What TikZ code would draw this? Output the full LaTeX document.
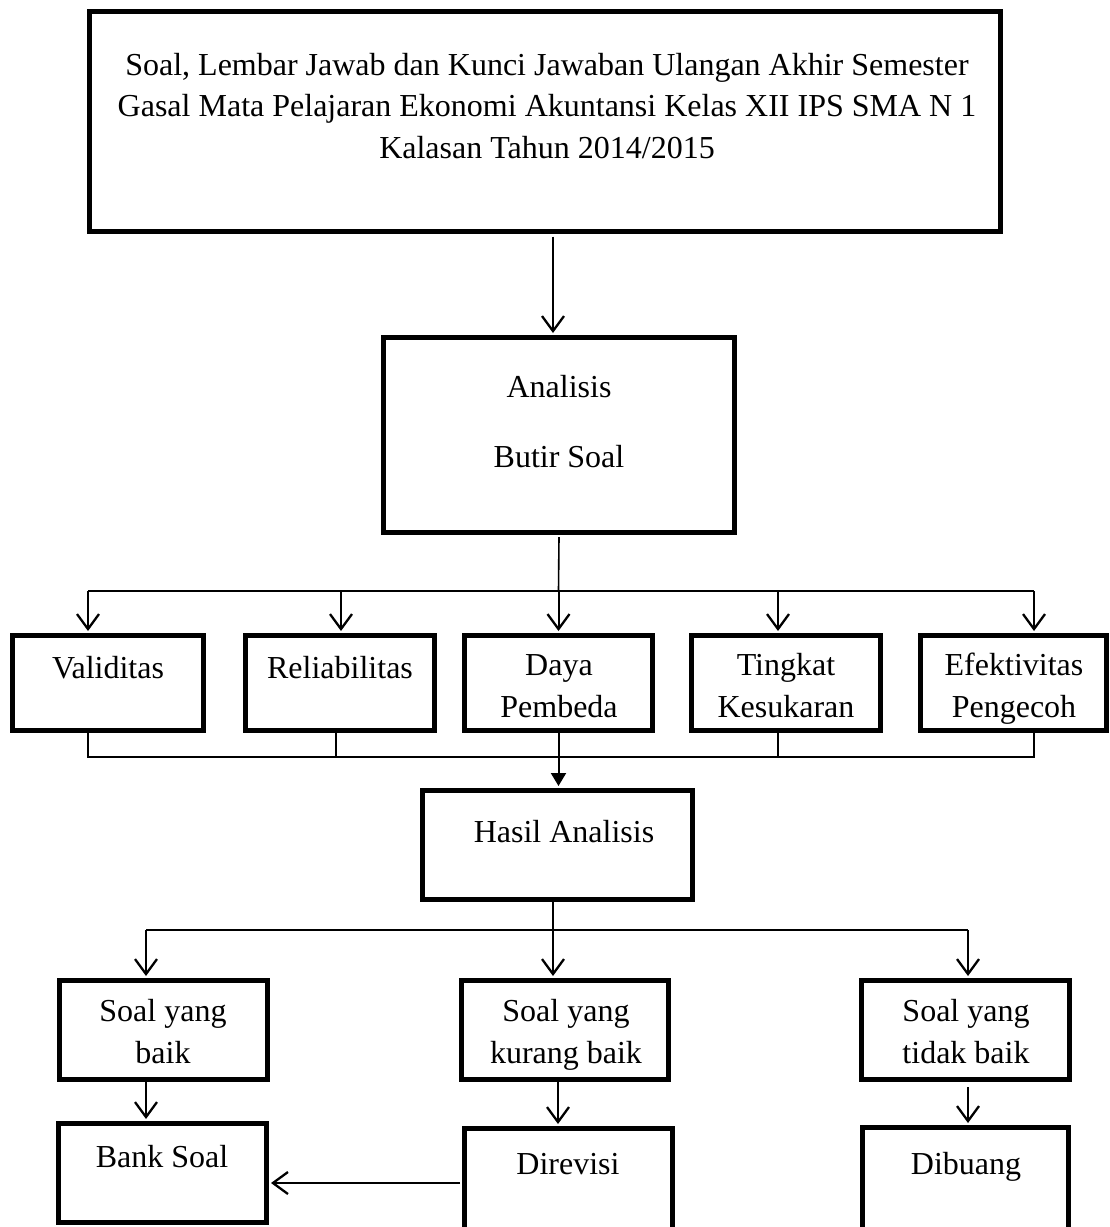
\documentclass[tikz,border=0pt]{standalone}
\usepackage{fontspec}
\setmainfont{Liberation Serif}
\usetikzlibrary{arrows.meta}
\begin{document}
\begin{tikzpicture}[x=1pt,y=-1pt,
  box/.style={draw=black, line width=5pt, inner sep=0pt, fill=white},
  txt/.style={inner sep=0pt, font=\fontsize{32}{41.5}\selectfont, align=center, anchor=base},
  ln/.style={line width=1.6pt},
  thin/.style={line width=1.3pt},
  arr/.style={line width=2pt, -{Straight Barb[length=15pt,width=22pt,line width=2.3pt]}, shorten >=2pt},
  arrf/.style={line width=2pt, -{Triangle[length=13pt,width=15pt]}, shorten >=2pt}]
\useasboundingbox[fill=white] (0,0) rectangle (1110,1227);

% boxes
\node[box, minimum width=911pt, minimum height=220pt] (title) at (545,121.5) {};
\node[box, minimum width=351pt, minimum height=195pt] (ana) at (559,435) {};
\node[box, minimum width=191pt, minimum height=95pt] (val) at (108,683) {};
\node[box, minimum width=189pt, minimum height=95pt] (rel) at (340,683) {};
\node[box, minimum width=188pt, minimum height=95pt] (day) at (558.5,683) {};
\node[box, minimum width=189pt, minimum height=95pt] (tin) at (786,683) {};
\node[box, minimum width=186pt, minimum height=95pt] (efe) at (1013.5,683) {};
\node[box, minimum width=270pt, minimum height=109pt] (has) at (557.5,845) {};
\node[box, minimum width=208pt, minimum height=99pt] (baik) at (163.5,1030) {};
\node[box, minimum width=207pt, minimum height=99pt] (kur) at (565,1030) {};
\node[box, minimum width=208pt, minimum height=99pt] (tid) at (965.5,1030) {};
\node[box, minimum width=208pt, minimum height=99pt] (bank) at (162.5,1173) {};
\node[box, minimum width=208pt, minimum height=104pt] (dir) at (568.5,1180.5) {};
\node[box, minimum width=206pt, minimum height=105pt] (dib) at (965.5,1180) {};

% texts (anchor=base is the baseline of the last line)
\node[txt] (titlet) at (547,158) {Soal, Lembar Jawab dan Kunci Jawaban Ulangan Akhir Semester\\Gasal Mata Pelajaran Ekonomi Akuntansi Kelas XII IPS SMA N 1\\Kalasan Tahun 2014/2015};
\node[txt, font=\fontsize{32}{70}\selectfont] (anat) at (559,467) {Analisis\\Butir Soal};
\node[txt] (valt) at (108,678) {Validitas};
\node[txt] (relt) at (340,678) {Reliabilitas};
\node[txt] (dayt) at (559,717) {Daya\\Pembeda};
\node[txt] (tint) at (786,717) {Tingkat\\Kesukaran};
\node[txt] (efet) at (1014,717) {Efektivitas\\Pengecoh};
\node[txt] (hast) at (564,842) {Hasil Analisis};
\node[txt] (baikt) at (163,1063) {Soal yang\\baik};
\node[txt] (kurt) at (566,1063) {Soal yang\\kurang baik};
\node[txt] (tidt) at (966,1063) {Soal yang\\tidak baik};
\node[txt] (bankt) at (162,1167) {Bank Soal};
\node[txt] (dirt) at (568,1174) {Direvisi};
\node[txt] (dibt) at (966,1174) {Dibuang};

% junction coordinates
\coordinate (a1) at (553,234);
\coordinate (b1) at (88,591);
\coordinate (b2) at (341,591);
\coordinate (b3) at (558.5,591);
\coordinate (b4) at (778,591);
\coordinate (b5) at (1034,591);
\coordinate (c1) at (88,757);
\coordinate (c2) at (336,757);
\coordinate (c4) at (778,757);
\coordinate (c5) at (1034,757);
\coordinate (d1) at (146,930);
\coordinate (d2) at (553,930);
\coordinate (d3) at (968,930);
\coordinate (e1) at (558,1100);
\coordinate (f1) at (462,1183);

% connectors
\draw[arr] ([yshift=-2.5pt]title.south -| a1) -- (a1 |- ana.north);
\draw[ln] ([yshift=-2pt]ana.south) -- (b3);
\draw[ln] (b1) -- (b5);
\draw[arr] (b1) -- (b1 |- val.north);
\draw[arr] (b2) -- (b2 |- rel.north);
\draw[arr] (b3) -- (day.north);
\draw[arr] (b4) -- (b4 |- tin.north);
\draw[arr] (b5) -- (b5 |- efe.north);

\draw[thin] ([yshift=2pt]c1 |- val.south) -- (c1) -- (c5) -- ([yshift=2pt]c5 |- efe.south);
\draw[thin] ([yshift=2pt]c2 |- rel.south) -- (c2);
\draw[thin] ([yshift=2pt]c4 |- tin.south) -- (c4);
\draw[arrf] ([yshift=2pt]day.south) -- (day.south |- has.north);

\draw[ln] ([yshift=2pt]d2 |- has.south) -- (d2);
\draw[ln] (d1) -- (d3);
\draw[arr] (d1) -- (d1 |- baik.north);
\draw[arr] (d2) -- (d2 |- kur.north);
\draw[arr] (d3) -- (d3 |- tid.north);

\draw[arr] ([yshift=2pt]d1 |- baik.south) -- (d1 |- bank.north);
\draw[arr] ([yshift=2pt]e1 |- kur.south) -- (e1 |- dir.north);
\draw[arr] ([yshift=-5pt]d3 |- tid.south) -- (d3 |- dib.north);
\draw[arr] ([xshift=-2pt]dir.west |- f1) -- (bank.east |- f1);
\end{tikzpicture}
\end{document}
